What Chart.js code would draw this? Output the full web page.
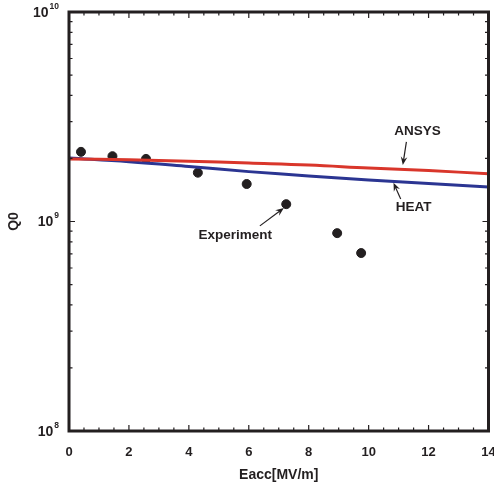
<!DOCTYPE html>
<html>
<head>
<meta charset="utf-8">
<script src="https://cdn.jsdelivr.net/npm/chart.js@4/dist/chart.umd.min.js"></script>
<style>
    html, body { margin: 0; padding: 0; background: #fff; }
    #wrap { width: 494px; height: 489px; }
</style>
</head>
<body>
<div id="wrap"><canvas id="chart"></canvas></div>
<script>
// values
const expX = [0.4, 1.45, 2.57, 4.3, 5.93, 7.25, 8.95, 9.75];
const expQ = [2.15e9, 2.05e9, 1.99e9, 1.71e9, 1.51e9, 1.21e9, 8.8e8, 7.07e8];

const simX = [0, 2, 4, 6, 8, 10, 12, 14];
const ansysQ = [1.99e9, 1.97e9, 1.94e9, 1.90e9, 1.86e9, 1.80e9, 1.75e9, 1.69e9];
const heatQ = [2.01e9, 1.93e9, 1.83e9, 1.73e9, 1.65e9, 1.58e9, 1.52e9, 1.46e9];

const xTicks = [0, 2, 4, 6, 8, 10, 12, 14];
const yDecades = [8, 9, 10];

const ink = '#231f20';
const family = '"Liberation Sans", Arial, sans-serif';

// labels and arrows, in data units
const notes = [
    { text: 'ANSYS', x: 11.63, y: 2.70e9, from: [11.26, 2.40e9], to: [11.14, 1.86e9] },
    { text: 'HEAT', x: 11.5, y: 1.17e9, from: [11.07, 1.28e9], to: [10.83, 1.53e9] },
    { text: 'Experiment', x: 5.55, y: 8.63e8, from: [6.37, 9.53e8], to: [7.17, 1.16e9] }
];

function toPoints(xs, ys) {
    return xs.map((x, i) => ({ x: x, y: ys[i] }));
}

function drawArrow(ctx, x1, y1, x2, y2) {
    const ang = Math.atan2(y2 - y1, x2 - x1);
    const len = 9;
    ctx.beginPath();
    ctx.moveTo(x1, y1);
    ctx.lineTo(x2 - Math.cos(ang) * 5, y2 - Math.sin(ang) * 5);
    ctx.stroke();
    ctx.beginPath();
    ctx.moveTo(x2, y2);
    ctx.lineTo(x2 - len * Math.cos(ang - 0.38), y2 - len * Math.sin(ang - 0.38));
    ctx.lineTo(x2 - len * 0.6 * Math.cos(ang), y2 - len * 0.6 * Math.sin(ang));
    ctx.lineTo(x2 - len * Math.cos(ang + 0.38), y2 - len * Math.sin(ang + 0.38));
    ctx.closePath();
    ctx.fill();
}

const framePlugin = {
    id: 'frame',
    afterDraw(chart) {
        const ctx = chart.ctx;
        const a = chart.chartArea;
        const xs = chart.scales.x;
        const ys = chart.scales.y;
        ctx.save();
        ctx.strokeStyle = ink;
        ctx.fillStyle = ink;

        // inward ticks on all four sides
        ctx.lineWidth = 1.2;
        ctx.beginPath();
        for (let v = 0; v <= 14; v += 0.5) {
            const px = xs.getPixelForValue(v);
            const len = v % 2 === 0 ? 6 : 3.5;
            ctx.moveTo(px, a.bottom); ctx.lineTo(px, a.bottom - len);
            ctx.moveTo(px, a.top); ctx.lineTo(px, a.top + len);
        }
        for (let d = 8; d < 10; d++) {
            for (let m = 1; m < 10; m++) {
                const py = ys.getPixelForValue(m * Math.pow(10, d));
                const len = m === 1 ? 6 : 3.5;
                ctx.moveTo(a.left, py); ctx.lineTo(a.left + len, py);
                ctx.moveTo(a.right, py); ctx.lineTo(a.right - len, py);
            }
        }
        ctx.stroke();

        ctx.lineWidth = 3;
        ctx.strokeRect(a.left, a.top, a.right - a.left, a.bottom - a.top);

        // y labels with superscript exponents
        yDecades.forEach(d => {
            const py = ys.getPixelForValue(Math.pow(10, d));
            const exp = String(d);
            ctx.font = 'bold 8.5px ' + family;
            const ew = ctx.measureText(exp).width;
            const right = 59;
            ctx.textBaseline = 'middle';
            ctx.textAlign = 'left';
            ctx.fillText(exp, right - ew, py - 5.5);
            ctx.font = 'bold 14px ' + family;
            ctx.textAlign = 'right';
            ctx.fillText('10', right - ew - 1, py + 1);
        });

        // annotations
        ctx.font = 'bold 13.5px ' + family;
        ctx.textAlign = 'center';
        ctx.textBaseline = 'middle';
        ctx.lineWidth = 1.2;
        notes.forEach(n => {
            ctx.fillText(n.text, xs.getPixelForValue(n.x), ys.getPixelForValue(n.y));
            drawArrow(ctx,
                xs.getPixelForValue(n.from[0]), ys.getPixelForValue(n.from[1]),
                xs.getPixelForValue(n.to[0]), ys.getPixelForValue(n.to[1]));
        });
        ctx.restore();
    }
};

new Chart(document.getElementById('chart'), {
    type: 'scatter',
    data: {
        datasets: [
            {
                label: 'ANSYS',
                type: 'line',
                data: toPoints(simX, ansysQ),
                borderColor: '#d9362b',
                borderWidth: 3,
                pointRadius: 0,
                tension: 0.4,
                fill: false
            },
            {
                label: 'HEAT',
                type: 'line',
                data: toPoints(simX, heatQ),
                borderColor: '#2b3592',
                borderWidth: 3,
                pointRadius: 0,
                tension: 0.4,
                fill: false
            },
            {
                label: 'Experiment',
                data: toPoints(expX, expQ),
                backgroundColor: ink,
                borderColor: ink,
                pointRadius: 4.5,
                pointHoverRadius: 4.5
            }
        ]
    },
    options: {
        responsive: true,
        maintainAspectRatio: false,
        animation: false,
        events: [],
        layout: { padding: { top: 12, right: 5, left: 0, bottom: 0 } },
        plugins: {
            legend: { display: false },
            tooltip: { enabled: false }
        },
        scales: {
            x: {
                type: 'linear',
                min: 0,
                max: 14,
                border: { display: false },
                grid: { display: false, drawTicks: false },
                afterBuildTicks: s => { s.ticks = xTicks.map(v => ({ value: v })); },
                ticks: {
                    color: ink,
                    font: { family: family, size: 13, weight: 'bold' },
                    padding: 14,
                    maxRotation: 0,
                    autoSkip: false
                },
                title: {
                    display: true,
                    text: 'Eacc[MV/m]',
                    color: ink,
                    font: { family: family, size: 14, weight: 'bold' },
                    padding: { top: 0, bottom: 5 }
                },
                afterFit: s => { s.height = 58; s.paddingLeft = 0; s.paddingRight = 0; }
            },
            y: {
                type: 'logarithmic',
                min: 1e8,
                max: 1e10,
                border: { display: false },
                grid: { display: false, drawTicks: false },
                ticks: { display: false },
                title: {
                    display: true,
                    text: 'Q0',
                    color: ink,
                    font: { family: family, size: 14, weight: 'bold' },
                    padding: { top: 6, bottom: 0 }
                },
                afterFit: s => { s.width = 69; s.paddingTop = 0; s.paddingBottom = 0; }
            }
        }
    },
    plugins: [framePlugin]
});
</script>
</body>
</html>
